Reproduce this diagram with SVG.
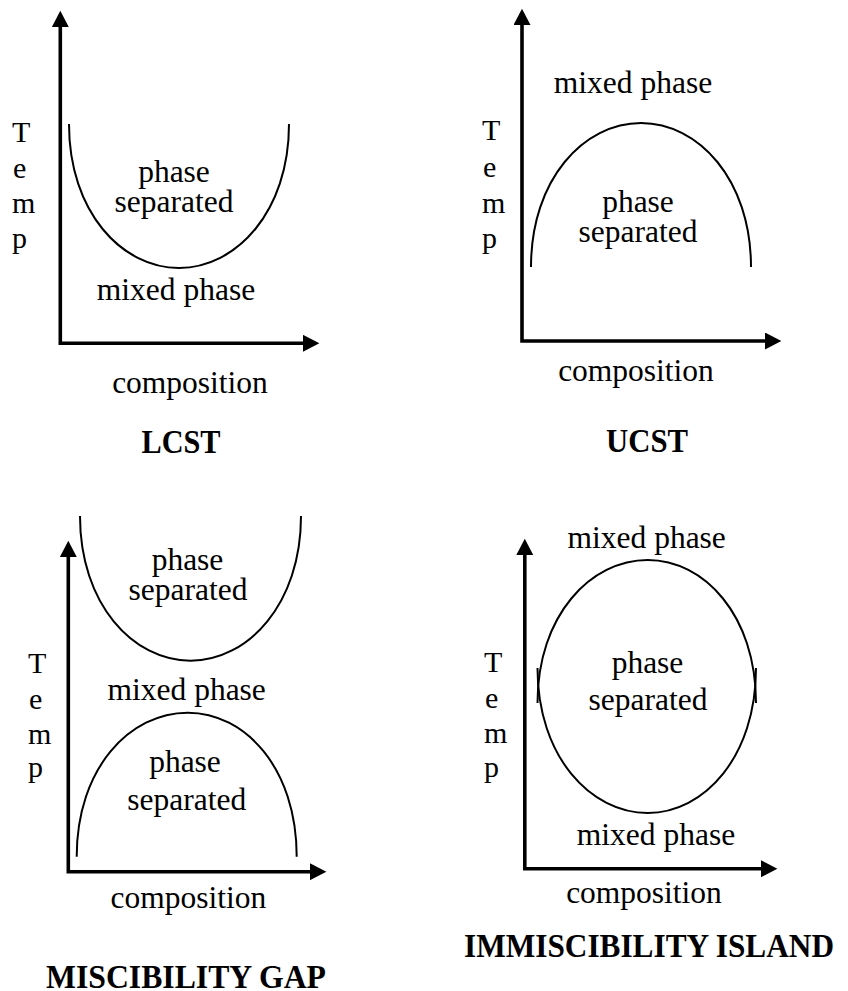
<svg xmlns="http://www.w3.org/2000/svg" width="848" height="991" viewBox="0 0 848 991">
<style>
  .t { font-family: "Liberation Serif", "Times New Roman", serif; font-size: 31.5px; fill: #000; text-anchor: middle; }
  .y { font-family: "Liberation Serif", "Times New Roman", serif; font-size: 30px; fill: #000; }
  .h { font-family: "Liberation Serif", "Times New Roman", serif; font-size: 34.5px; font-weight: bold; fill: #000; text-anchor: middle; }
  .c { fill: none; stroke: #000; stroke-width: 2; }
  .ax { fill: none; stroke: #000; stroke-width: 3.6; stroke-linejoin: miter; marker-start: url(#ah); marker-end: url(#ah); }
</style>
<defs>
  <marker id="ah" markerUnits="userSpaceOnUse" markerWidth="17" markerHeight="17" viewBox="0 0 16 16.6" refX="1" refY="8.3" orient="auto-start-reverse">
    <path d="M0,0 L16,8.3 L0,16.6 z" fill="#000"/>
  </marker>
</defs>
<rect width="848" height="991" fill="#fff"/>

<g id="connectors">
  <path class="ax" d="M60.3,26 V343.3 H304"/>
  <path class="ax" d="M522,24 V341 H766"/>
  <path class="ax" d="M68.3,556 V871.7 H311"/>
  <path class="ax" d="M524.8,554 V868.7 H762"/>
</g>

<g id="lcst">
  <path class="c" d="M69,124 C69,212 122,268 179,268 C236,268 289,212 289,124"/>
  <text class="y" x="12" y="142">T</text>
  <text class="y" x="13" y="178">e</text>
  <text class="y" x="12" y="213">m</text>
  <text class="y" x="12" y="248">p</text>
  <text class="t" x="174" y="182">phase</text>
  <text class="t" x="174" y="212">separated</text>
  <text class="t" x="176" y="300">mixed phase</text>
  <text class="t" x="190" y="393">composition</text>
  <text class="h" x="181" y="453" textLength="79" lengthAdjust="spacingAndGlyphs">LCST</text>
</g>

<g id="ucst">
  <path class="c" d="M531,267 C531,179 584,123 641,123 C698,123 751,179 751,267"/>
  <text class="y" x="482" y="140">T</text>
  <text class="y" x="483" y="177">e</text>
  <text class="y" x="482" y="213">m</text>
  <text class="y" x="482" y="248">p</text>
  <text class="t" x="633" y="93">mixed phase</text>
  <text class="t" x="638" y="212">phase</text>
  <text class="t" x="638" y="242">separated</text>
  <text class="t" x="636" y="381">composition</text>
  <text class="h" x="647" y="452" textLength="82" lengthAdjust="spacingAndGlyphs">UCST</text>
</g>

<g id="miscibility-gap">
  <path class="c" d="M80,516 C80,604 133,660.7 190.5,660.7 C248,660.7 301,604 301,516"/>
  <path class="c" d="M76.7,856.7 C76.7,768 130,712.7 187.7,712.7 C245,712.7 296.7,768 296.7,856.7"/>
  <text class="y" x="28" y="673">T</text>
  <text class="y" x="29" y="709">e</text>
  <text class="y" x="28" y="744">m</text>
  <text class="y" x="28" y="777">p</text>
  <text class="t" x="187.5" y="570">phase</text>
  <text class="t" x="188" y="600">separated</text>
  <text class="t" x="186.7" y="700">mixed phase</text>
  <text class="t" x="185" y="772">phase</text>
  <text class="t" x="186.7" y="810">separated</text>
  <text class="t" x="188.3" y="908">composition</text>
  <text class="h" x="186" y="988" textLength="280" lengthAdjust="spacingAndGlyphs">MISCIBILITY GAP</text>
</g>

<g id="immiscibility-island">
  <path class="c" d="M537.5,703 C537.5,615 591,560 647.7,560 C704,560 756,615 756,703"/>
  <path class="c" d="M537.5,668 C537.5,757 591,813 647.7,813 C704,813 756,757 756,668"/>
  <text class="y" x="484" y="672">T</text>
  <text class="y" x="485" y="708">e</text>
  <text class="y" x="484" y="743">m</text>
  <text class="y" x="484" y="777">p</text>
  <text class="t" x="646.7" y="548">mixed phase</text>
  <text class="t" x="647.5" y="673">phase</text>
  <text class="t" x="648" y="710">separated</text>
  <text class="t" x="656" y="845">mixed phase</text>
  <text class="t" x="644" y="903">composition</text>
  <text class="h" x="649" y="957" textLength="370" lengthAdjust="spacingAndGlyphs">IMMISCIBILITY ISLAND</text>
</g>
</svg>
